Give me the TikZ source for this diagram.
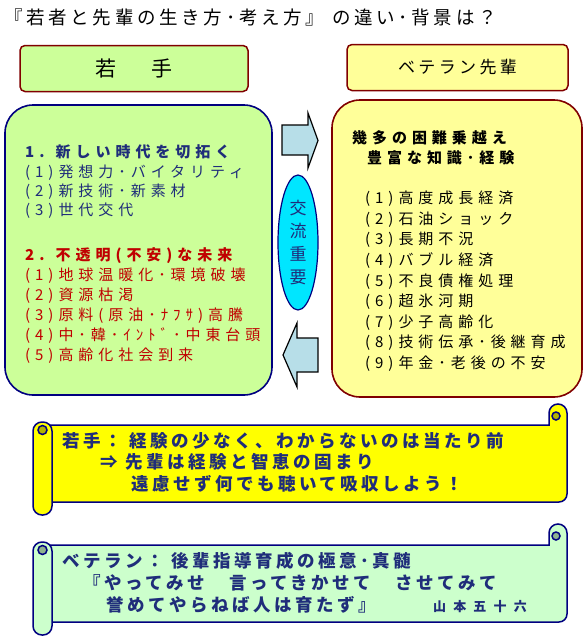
\documentclass[tikz,border=0pt]{standalone}
\usepackage{fontspec}
\usepackage{tikz}
\usepackage{xcolor}
\usetikzlibrary{shapes.geometric}
\setmainfont{Noto Sans CJK JP}
\newfontfamily\jpwide{Noto Sans CJK JP}[LetterSpace=33]
\newfontfamily\jpmid{Noto Sans CJK JP}[LetterSpace=20]
\newfontfamily\jpsign{Noto Sans CJK JP}[LetterSpace=55]

\definecolor{younggreen}{RGB}{204,255,153}
\definecolor{vetyellow}{RGB}{255,255,153}
\definecolor{maroonline}{RGB}{128,0,0}
\definecolor{navyline}{RGB}{0,0,128}
\definecolor{navytext}{RGB}{31,45,122}
\definecolor{redtext}{RGB}{192,0,0}
\definecolor{arrowblue}{RGB}{183,222,232}
\definecolor{talkcyan}{RGB}{0,230,255}
\definecolor{scrollyellow}{RGB}{255,255,0}
\definecolor{scrollgreen}{RGB}{204,255,204}

\begin{document}
\begin{tikzpicture}[x=1pt, y=-1pt,
    headbox/.style={rectangle, draw=maroonline, line width=1.5pt, rounded corners=5pt, minimum height=46pt, inner sep=0pt},
    bigbox/.style={rectangle, line width=1.6pt, rounded corners=28pt, inner sep=0pt},
    item/.style={anchor=base west, inner sep=0pt, font=\jpwide\fontsize{15}{18}\selectfont},
    scrolltext/.style={anchor=base west, inner sep=0pt, text=navytext, font=\jpmid\bfseries\fontsize{17.5}{20}\selectfont},
    blockarrow/.style={draw=black, line width=1.2pt, fill=arrowblue},
    scrollline/.style={draw=navyline, line width=1.5pt}]
    \useasboundingbox (0,0) rectangle (584,637);

    % title
    \node[anchor=base west, inner sep=0pt, font=\jpmid\fontsize{18.5}{20}\selectfont] (title) at (4,24) {『若者と先輩の生き方･考え方』 の違い･背景は？};

    % the two sides
    \node[headbox, fill=younggreen, minimum width=228pt, font=\jpwide\fontsize{21}{24}\selectfont] (young) at (134,68.5) {若　手};
    \node[headbox, fill=vetyellow, minimum width=221pt, font=\jpmid\fontsize{17}{20}\selectfont] (vet) at (457.5,67.5) {ベテラン先輩};

    \node[bigbox, draw=navyline, fill=younggreen, minimum width=267pt, minimum height=290pt] (youngbox) at (138.5,250) {};
    \node[bigbox, draw=maroonline, fill=vetyellow, minimum width=250pt, minimum height=297pt] (vetbox) at (457,248.5) {};

    % exchange in the middle
    \draw[blockarrow] (282,125) -- (308,125) -- (308,113) -- (318,140.5) -- (308,168) -- (308,155) -- (282,155) -- cycle;
    \draw[blockarrow] (318,338) -- (297,338) -- (297,323) -- (283,355) -- (297,387) -- (297,372) -- (318,372) -- cycle;
    \node[ellipse, draw=navyline, line width=1.2pt, fill=talkcyan, minimum width=40pt, minimum height=135pt, inner sep=0pt,
        align=center, text=navytext, font=\fontsize{17}{23.3}\selectfont] (talk) at (298,242.5) {交\\流\\重\\要};

    % young side
    \node[item, text=navytext, font=\jpwide\bfseries\fontsize{15}{18}\selectfont] (newera) at (25,157.7) {1. 新しい時代を切拓く};
    \foreach \t [count=\i] in {(1)発想力･バイタリティ, (2)新技術･新素材, (3)世代交代}
        \node[item, text=navytext] (newera\i) at ({25},{157.7+19.4*\i}) {\t};
    \node[item, text=redtext, font=\jpwide\bfseries\fontsize{15}{18}\selectfont] (future) at (25,260.7) {2. 不透明(不安)な未来};
    \foreach \t [count=\i] in {(1)地球温暖化･環境破壊, (2)資源枯渇, (3)原料(原油･ﾅﾌｻ)高騰, (4)中･韓･ｲﾝﾄﾞ･中東台頭, (5)高齢化社会到来}
        \node[item, text=redtext] (future\i) at ({25},{260.7+20*\i}) {\t};

    % veteran side
    \node[item, font=\jpwide\bfseries\fontsize{15}{18}\selectfont] (hard) at (352,143.7) {幾多の困難乗越え};
    \node[item, font=\jpwide\bfseries\fontsize{15}{18}\selectfont] (rich) at (367,163.7) {豊富な知識･経験};
    \foreach \t [count=\i from 0] in {(1)高度成長経済, (2)石油ショック, (3)長期不況, (4)バブル経済, (5)不良債権処理, (6)超氷河期, (7)少子高齢化, (8)技術伝承･後継育成, (9)年金･老後の不安}
        \node[item] (era\i) at ({365},{203.7+20.6*\i}) {\t};

    % scrolls
    \foreach \oy/\col in {0/scrollyellow, 120/scrollgreen} {
        \begin{scope}[yshift=-\oy pt]
            \draw[scrollline, fill=\col] (40,425) -- (549,425) -- (549,413) arc[start angle=180, end angle=360, radius=9]
                -- (567,494) arc[start angle=0, end angle=90, radius=8] -- (40,502) -- cycle;
            \draw[scrollline, fill=\col!70!black] (556,416) circle (4);
            \draw[scrollline, fill=\col, rounded corners=9pt] (33,422) rectangle (52,515);
            \draw[scrollline, fill=\col!70!black] (42.5,430) circle (4.5);
        \end{scope}
    }

    \node[scrolltext] (learn1) at (62,447.5) {若手： 経験の少なく、わからないのは当たり前};
    \node[scrolltext] (learn2) at (100,468.5) {⇒ 先輩は経験と智恵の固まり};
    \node[scrolltext] (learn3) at (131,490.5) {遠慮せず何でも聴いて吸収しよう！};

    \node[scrolltext] (teach1) at (62,567.5) {ベテラン： 後輩指導育成の極意･真髄};
    \node[scrolltext] (teach2) at (83,589.5) {『やってみせ　言ってきかせて　させてみて};
    \node[scrolltext] (teach3) at (106,611.5) {誉めてやらねば人は育たず』};
    \node[anchor=base west, inner sep=0pt, text=navytext, font=\jpsign\bfseries\fontsize{13}{16}\selectfont] (yamamoto) at (433,611) {山本五十六};
\end{tikzpicture}
\end{document}
